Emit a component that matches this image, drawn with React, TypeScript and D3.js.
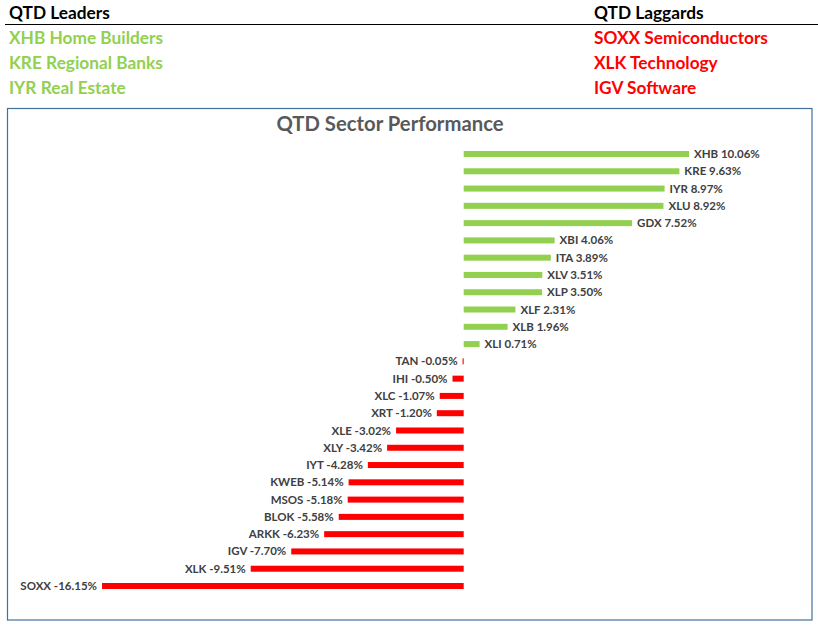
import React from "react";
import * as d3 from "d3";

const tickers = [
	"XHB", "KRE", "IYR", "XLU", "GDX", "XBI", "ITA", "XLV", "XLP", "XLF", "XLB", "XLI", "TAN",
	"IHI", "XLC", "XRT", "XLE", "XLY", "IYT", "KWEB", "MSOS", "BLOK", "ARKK", "IGV", "XLK", "SOXX",
];
const returns = [
	10.06, 9.63, 8.97, 8.92, 7.52, 4.06, 3.89, 3.51, 3.5, 2.31, 1.96, 0.71, -0.05,
	-0.5, -1.07, -1.2, -3.02, -3.42, -4.28, -5.14, -5.18, -5.58, -6.23, -7.7, -9.51, -16.15,
];
const leaders = ["XHB Home Builders", "KRE Regional Banks", "IYR Real Estate"];
const laggards = ["SOXX Semiconductors", "XLK Technology", "IGV Software"];

const W = 818;
const H = 626;
const GREEN = "#92D050";
const RED = "#FF0000";
const FONT = "Lato, 'Open Sans', sans-serif";

const App: React.FC = () => {
	const x = d3.scaleLinear().domain([-16.15, 10.06]).range([102, 689]);
	const y = d3
		.scaleBand()
		.domain(tickers)
		.range([145.36, 145.36 + 26 * 17.28]);
	const barH = 6;

	const fmt = (v: number) => `${v.toFixed(2)}%`;

	return (
		<svg
			width={W}
			height={H}
			style={{ position: "absolute", left: 0, top: 0, background: "#fff" }}
			fontFamily={FONT}
		>
			{/* header */}
			<text x={9} y={19} fontSize={17.3} fontWeight={700} fill="#000">QTD Leaders</text>
			<text x={594} y={19} fontSize={17.3} fontWeight={700} fill="#000">QTD Laggards</text>
			<line x1={5} x2={W} y1={24.5} y2={24.5} stroke="#000" strokeWidth={1.2} />
			{leaders.map((t, i) => (
				<text key={t} x={9} y={44 + i * 25} fontSize={17.3} fontWeight={700} fill={GREEN}>
					{t}
				</text>
			))}
			{laggards.map((t, i) => (
				<text key={t} x={594} y={44 + i * 25} fontSize={17.3} fontWeight={700} fill={RED}>
					{t}
				</text>
			))}

			{/* chart box */}
			<rect x={7.5} y={108.5} width={804.5} height={511.5} fill="#fff" stroke="#41719C" strokeWidth={1.2} />
			<text x={390} y={131} textAnchor="middle" fontSize={20.3} fontWeight={700} fill="#595959">
				QTD Sector Performance
			</text>

			{tickers.map((t, i) => {
				const v = returns[i];
				const cy = (y(t) as number) + y.bandwidth() / 2;
				const x0 = x(0);
				const x1 = x(v);
				const pos = v >= 0;
				return (
					<g key={t}>
						<rect
							x={Math.min(x0, x1)}
							y={cy - barH / 2}
							width={Math.max(Math.abs(x1 - x0), 1)}
							height={barH}
							fill={pos ? GREEN : RED}
						/>
						<text
							x={pos ? x1 + 5 : x1 - 5}
							y={cy}
							dy="0.35em"
							textAnchor={pos ? "start" : "end"}
							fontSize={11.5}
							fontWeight={700}
							fill="#404040"
						>
							{`${t} ${fmt(v)}`}
						</text>
					</g>
				);
			})}
		</svg>
	);
};

export default App;
